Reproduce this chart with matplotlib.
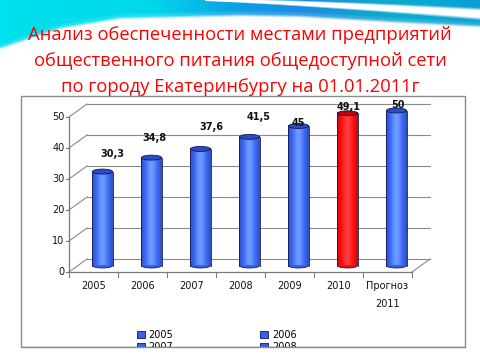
import numpy as np
import matplotlib
matplotlib.use('Agg')
import matplotlib.pyplot as plt
from matplotlib.patches import Rectangle, Ellipse, Patch
from matplotlib.lines import Line2D
from matplotlib.transforms import ScaledTranslation, IdentityTransform

# Данные диаграммы
categories = ['2005', '2006', '2007', '2008', '2009', '2010', 'Прогноз\n2011']
legend_labels = ['2005', '2006', '2007', '2008', '2009', '2010', 'Прогноз 2011']
values = [30.3, 34.8, 37.6, 41.5, 45, 49.1, 50]
value_text = ['30,3', '34,8', '37,6', '41,5', '45', '49,1', '50']
y_ticks = [0, 10, 20, 30, 40, 50]
highlight = '2010'

title_lines = ['Анализ обеспеченности местами предприятий',
               'общественного питания общедоступной сети',
               'по городу Екатеринбургу на 01.01.2011г']

# сдвиги подписей значений относительно верха цилиндра (px)
label_dx = [10, 3, 11, 9, 0, 1, 1]
label_dy = [18, 20, 22, 20, 3, 6, 5]

W, H = 480, 360
DX, DY = 9, 6.5          # половина глубины "3D" в пикселях
grid_col = '#8a8a8a'
blue, blue_top = np.array([0.22, 0.38, 0.90]), '#2a4cc4'
red, red_top = np.array([0.93, 0.05, 0.05]), '#c00000'
edge_col = '#14185a'

fig = plt.figure(figsize=(4.8, 3.6), dpi=100)

# --- фон слайда (волна сверху) ---
bg = fig.add_axes([0, 0, 1, 1])
bg.set_xlim(0, W)
bg.set_ylim(H, 0)
bg.axis('off')
xx, yy = np.meshgrid(np.arange(W) + 0.5, np.arange(H) + 0.5)
xs = [0, 150, 240, 300, 400, 480]
col_r = [0.00, 0.00, 0.05, 0.10, 0.05, 0.05]
col_g = [0.88, 0.85, 0.62, 0.55, 0.68, 0.62]
col_b = [0.93, 0.92, 0.90, 0.88, 0.80, 0.84]
rgb = np.dstack([np.interp(xx, xs, col_r), np.interp(xx, xs, col_g), np.interp(xx, xs, col_b)])
b = np.interp(xx, [0, 60, 120, 240, 300, 400, 480], [50, 30, 20, 17, 18, 24, 28])
near = np.clip(1 - (b - yy) / 7, 0, 1) * 0.35
rgb = rgb * (1 - near[..., None]) + near[..., None]
s = np.clip((xx - 205) / 275, 0, 1)
ys = 14 * s ** 1.3
half = 1.5 + 5 * s
sw = np.clip(1 - np.abs(yy - ys) / half, 0, 1) * (xx > 205)
sw = np.clip(sw * 2, 0, 1)
rgb = rgb * (1 - sw[..., None]) + sw[..., None]
alpha = np.clip((b - yy) / 3, 0, 1)
img = np.dstack([rgb, alpha])
bg.imshow(img, extent=(0, W, H, 0), aspect='auto', zorder=0)

# рамка области диаграммы
bg.add_patch(Rectangle((21, 96), 444, 251, facecolor='white', edgecolor='#8c8c8c',
                       lw=1, zorder=1))

# --- заголовок ---
title_texts = []
for line, base in zip(title_lines, [40, 66, 92]):
    title_texts.append(fig.text(0.5, 1 - base / H, line, ha='center', va='baseline',
                                color='#ff0000', fontsize=14,
                                family=['Open Sans', 'DejaVu Sans']))
fig.canvas.draw()
widest = max(tt.get_window_extent().width for tt in title_texts)
for tt in title_texts:
    tt.set_fontsize(14 * 426 / widest)

# --- основная ось (средняя плоскость глубины) ---
ax = fig.add_axes([78 / W, (H - 265.5) / H, 343 / W, 155 / H])
ax.set_xlim(-0.5, len(categories) - 0.5)
ax.set_ylim(0, 50)
ax.axis('off')

dpt = fig.dpi_scale_trans
front = ax.transData + ScaledTranslation(-DX / 100, -DY / 100, dpt)
back = ax.transData + ScaledTranslation(DX / 100, DY / 100, dpt)
x0, x1 = -0.5, len(categories) - 0.5

def px_line(p1, p2, **kw):
    ax.add_line(Line2D([p1[0], p2[0]], [p1[1], p2[1]], transform=IdentityTransform(),
                       clip_on=False, **kw))

# задняя стенка и боковые линии
for y in y_ticks:
    ax.plot([x0, x1], [y, y], transform=back, color=grid_col, lw=0.8, clip_on=False, zorder=1)
    px_line(front.transform((x0, y)), back.transform((x0, y)), color=grid_col, lw=0.8, zorder=1)
    p = front.transform((x0, y))
    px_line(p, (p[0] - 3, p[1]), color='#7a7a7a', lw=0.8, zorder=1)
    ax.text(x0, y, str(y), transform=front + ScaledTranslation(-0.045, 0, dpt),
            ha='right', va='center', fontsize=7, color='#111111')
px_line(front.transform((x1, 0)), back.transform((x1, 0)), color=grid_col, lw=0.8, zorder=1)
ax.plot([x0, x1], [0, 0], transform=front, color='#7a7a7a', lw=0.9, clip_on=False, zorder=1)
ax.plot([x0, x0], [0, 50], transform=front, color='#7a7a7a', lw=0.9, clip_on=False, zorder=1)
for k in range(len(categories) + 1):
    p = front.transform((x0 + k, 0))
    px_line(p, (p[0], p[1] - 5), color='#7a7a7a', lw=0.8, zorder=1)

# --- цилиндры ---
w, eh = 0.41, 1.6
n = 24
tt_ = np.linspace(0, 1, n)
shade = 0.78 + 0.32 * np.sin(np.pi * tt_) ** 0.7 + 0.06 * (np.arange(n) % 2)
for i, (cat, v) in enumerate(zip(categories, values)):
    base = red if cat == highlight else blue
    top = red_top if cat == highlight else blue_top
    grad = np.clip(base[None, :] * shade[:, None] + 0.18 * np.sin(np.pi * tt_)[:, None] ** 4, 0, 1)
    ax.add_patch(Ellipse((i, 0), w, eh, facecolor=base, edgecolor=edge_col, lw=0.6,
                         zorder=3, clip_on=False))
    ax.imshow(grad[None, :, :], extent=(i - w / 2, i + w / 2, 0, v), aspect='auto',
              interpolation='bilinear', zorder=4)
    ax.plot([i - w / 2] * 2, [0, v], color=edge_col, lw=0.6, zorder=5, clip_on=False)
    ax.plot([i + w / 2] * 2, [0, v], color=edge_col, lw=0.6, zorder=5, clip_on=False)
    ax.add_patch(Ellipse((i, v), w, eh, facecolor=top, edgecolor=edge_col, lw=0.6,
                         zorder=6, clip_on=False))
    ax.annotate(value_text[i], (i, v), xytext=(label_dx[i] * 0.72, label_dy[i] * 0.72),
                textcoords='offset points', ha='center', va='center', fontsize=7,
                fontweight='bold', color='#111111', zorder=7, annotation_clip=False)
    ax.text(i, 0, cat, transform=front + ScaledTranslation(0, -0.09, dpt),
            ha='center', va='top', fontsize=7, linespacing=2.0, color='#111111')

ax.set_xlim(x0, x1)
ax.set_ylim(0, 50)

# --- легенда (обрезана рамкой, как в оригинале) ---
handles = [Patch(facecolor=(red if c == highlight else blue), edgecolor=edge_col, lw=0.6)
           for c in categories]
order = list(range(0, len(handles), 2)) + list(range(1, len(handles), 2))
fig.legend([handles[k] for k in order], [legend_labels[k] for k in order], ncol=2,
           loc='upper left', bbox_to_anchor=(137 / W, (H - 330) / H), frameon=False,
           fontsize=7, handlelength=0.8, handleheight=0.8, handletextpad=0.4,
           columnspacing=4.3, labelspacing=0.2, borderpad=0, borderaxespad=0)
fig.add_artist(Rectangle((0, 0), 1, (H - 347.6) / H, transform=fig.transFigure,
                         facecolor='white', edgecolor='none', zorder=10))
fig.add_artist(Line2D([21 / W, 465 / W], [(H - 347) / H] * 2, transform=fig.transFigure,
                      color='#8c8c8c', lw=1, zorder=11))

fig.savefig('out.png', dpi=100)
